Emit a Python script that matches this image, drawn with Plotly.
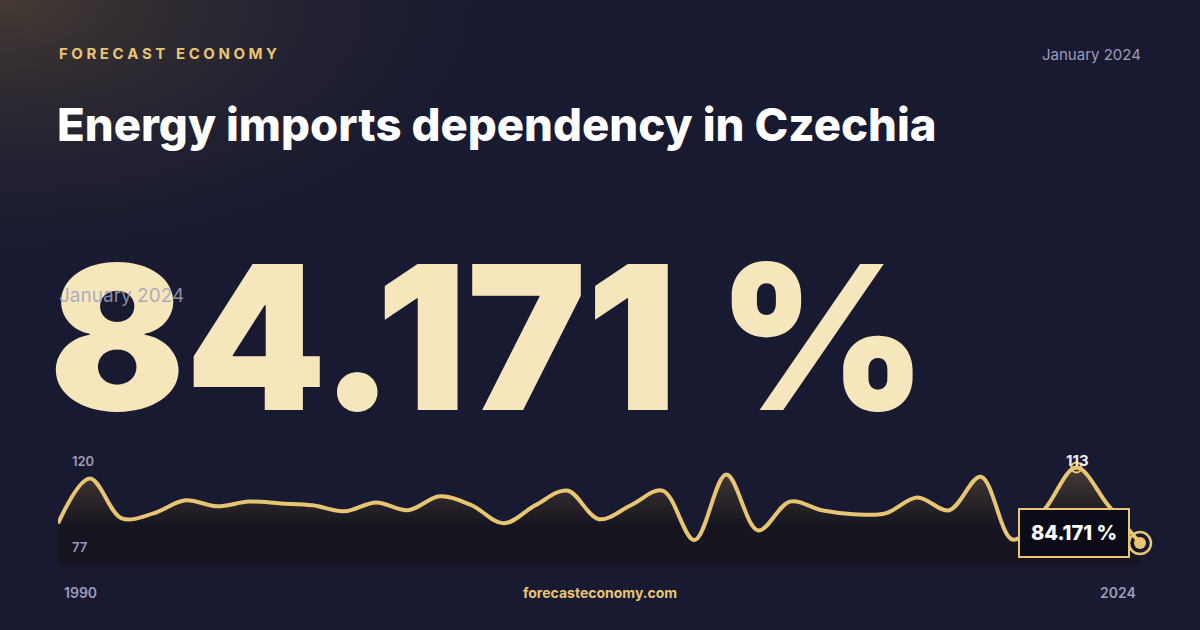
"""Sparkline card: energy imports dependency in Czechia"""

import plotly.graph_objects as go

YEARS = list(range(1990, 2025))
VALUES = [91.7, 108.8, 93.6, 95.5, 100.5, 98.2, 100.0, 99.3, 98.6, 96.3,
          99.7, 96.7, 102.0, 98.6, 91.7, 98.6, 104.2, 93.3, 98.6, 104.2,
          85.3, 110.3, 89.0, 100.0, 96.7, 95.2, 95.5, 101.6, 96.7, 109.5,
          85.5, 97.0, 113.0, 98.6, 84.171]
AXIS_LABELS = ["120", "77"]
HEADLINE = "84.171 %"
PERIOD = "January 2024"

GOLD = "#e8c572"
MUTED = "#9c9cb8"
BG = "#181a31"
W, H = 1200, 630

fig = go.Figure()

# background glow on a full-page helper axis (drawn first)
fig.add_trace(go.Scatter(
    x=[-1, 1, 1, -1, -1], y=[0, 0, 2, 2, 0],
    mode="lines", line=dict(width=0),
    fill="toself",
    fillgradient=dict(type="radial", colorscale=[[0, "rgba(72,60,50,0.95)"], [0.5, "rgba(24,26,49,0)"], [1, "rgba(24,26,49,0)"]]),
    hoverinfo="skip", showlegend=False,
))

fig.add_trace(go.Scatter(
    x=YEARS, y=VALUES, mode="lines", xaxis="x2", yaxis="y2",
    line=dict(color=GOLD, width=4, shape="spline", smoothing=1.0),
    fill="tozeroy",
    fillgradient=dict(type="vertical", colorscale=[[0, "rgba(18,18,28,0.9)"], [0.8, "rgba(22,20,30,0.9)"], [1, "rgba(72,62,54,0.95)"]]),
    hoverinfo="skip", showlegend=False,
))

peak_i = VALUES.index(max(VALUES))
fig.add_trace(go.Scatter(
    x=[YEARS[peak_i]], y=[VALUES[peak_i]], mode="markers", xaxis="x2", yaxis="y2",
    marker=dict(size=10, color="rgba(0,0,0,0)", line=dict(color=GOLD, width=2)),
    showlegend=False, cliponaxis=False,
))
fig.add_trace(go.Scatter(
    x=[YEARS[-1]], y=[VALUES[-1]], mode="markers", xaxis="x2", yaxis="y2",
    marker=dict(size=22, color="rgba(0,0,0,0)", line=dict(color=GOLD, width=2.5)),
    showlegend=False, cliponaxis=False,
))
fig.add_trace(go.Scatter(
    x=[YEARS[-1]], y=[VALUES[-1]], mode="markers", xaxis="x2", yaxis="y2",
    marker=dict(size=12, color=GOLD),
    showlegend=False, cliponaxis=False,
))

annotations = [
    dict(text="F O R E C A S T   E C O N O M Y", x=57, y=53, font=dict(family="Inter", size=15, color=GOLD, weight=700), xanchor="left"),
    dict(text=PERIOD, x=1143, y=54, font=dict(family="Inter", size=15, color=MUTED), xanchor="right"),
    dict(text="Energy imports dependency in Czechia", x=55, y=125, font=dict(family="Inter", size=45.5, color="white", weight=800), xanchor="left"),
    dict(text=HEADLINE, x=47, y=336, font=dict(family="Inter", size=201, color="#f6e6bb", weight=900), xanchor="left"),
    dict(text=PERIOD, x=57, y=295, font=dict(family="Inter", size=19, color="rgba(160,160,190,0.85)"), xanchor="left"),
    dict(text=AXIS_LABELS[0], x=70, y=461, font=dict(family="Inter", size=13, color=MUTED, weight=600), xanchor="left"),
    dict(text=AXIS_LABELS[1], x=70, y=547, font=dict(family="Inter", size=13, color=MUTED, weight=600), xanchor="left"),
    dict(text=str(YEARS[0]), x=62, y=592, font=dict(family="Inter", size=14, color=MUTED, weight=600), xanchor="left"),
    dict(text=str(YEARS[-1]), x=1138, y=592, font=dict(family="Inter", size=14, color=MUTED, weight=600), xanchor="right"),
    dict(text="forecasteconomy.com", x=600, y=592, font=dict(family="Inter", size=14, color=GOLD, weight=700), xanchor="center"),
    dict(text=str(round(max(VALUES))), x=1077, y=461, font=dict(family="Inter", size=15, color="#f0ecf0", weight=700), xanchor="center"),
    dict(text=HEADLINE, x=1074, y=533, font=dict(family="Inter", size=20, color="white", weight=800), xanchor="center",
         bgcolor="#0b0c18", bordercolor=GOLD, borderwidth=2, borderpad=11),
]
for a in annotations:
    a.update(xref="paper", yref="paper", showarrow=False, yanchor="middle")
    a["x"] = a["x"] / W
    a["y"] = 1 - a["y"] / H

fig.update_layout(
    width=W, height=H,
    margin=dict(l=0, r=0, t=0, b=0),
    paper_bgcolor=BG, plot_bgcolor="rgba(0,0,0,0)",
    xaxis=dict(range=[0, 1], visible=False, domain=[0, 1]),
    yaxis=dict(range=[0, 1], visible=False, domain=[0, 1]),
    xaxis2=dict(range=[1990, 2024], visible=False, anchor="y2", domain=[58 / W, 1140 / W]),
    yaxis2=dict(range=[75.8, 119.7], visible=False, anchor="x2", domain=[65 / H, 180 / H]),
    annotations=annotations,
)

fig.write_html("out.html", config={"displayModeBar": False},
               post_script="document.body.style.margin='0';")
